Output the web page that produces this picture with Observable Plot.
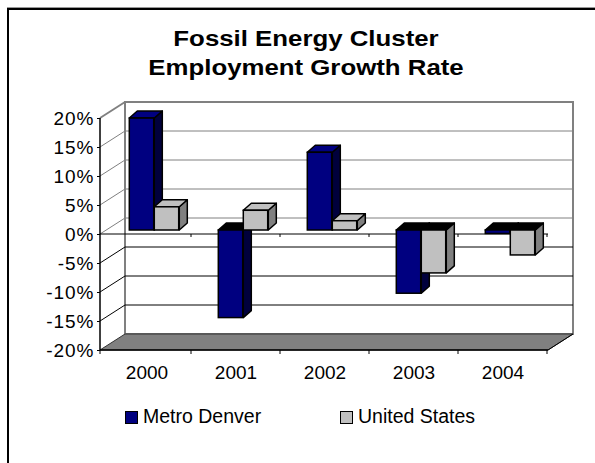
<!DOCTYPE html>
<html><head><meta charset="utf-8">
<script src="https://cdn.jsdelivr.net/npm/d3@7"></script>
<script src="https://cdn.jsdelivr.net/npm/@observablehq/plot@0.6"></script>
<style>
body{margin:0;background:#fff;font-family:"Liberation Sans",Arial,sans-serif;}
#wrap{position:relative;width:595px;height:463px;overflow:hidden;background:#fff;}
#chart{position:absolute;left:0;top:0;}
#chart [aria-label="y-axis tick label"] text{letter-spacing:1px;}
#border{position:absolute;left:7px;top:8px;width:700px;height:600px;border-left:2px solid #000;border-top:2px solid #000;box-shadow:0 -1px 0 #999;}
#title{position:absolute;left:0;width:612px;top:25px;text-align:center;font-weight:bold;font-size:21.5px;line-height:29px;color:#000;}
#title div{transform:scaleX(1.2);transform-origin:center;}
.lg{position:absolute;top:404px;font-size:19.5px;line-height:24px;color:#000;white-space:nowrap;}
.sw{display:inline-block;width:11px;height:11px;border:1.5px solid #000;vertical-align:-1px;margin-right:5px;}
</style></head>
<body>
<div id="wrap">
  <div id="chart"></div>
  <div id="border"></div>
  <div id="title"><div>Fossil Energy Cluster</div><div>Employment Growth Rate</div></div>
  <div id="legend"></div>
</div>
<script>
const years = ["2000", "2001", "2002", "2003", "2004"];
const seriesNames = ["Metro Denver", "United States"];
const metroDenver = [0.193, -0.151, 0.134, -0.109, -0.006];
const unitedStates = [0.040, 0.034, 0.016, -0.074, -0.043];
const yTicks = [-0.2, -0.15, -0.1, -0.05, 0, 0.05, 0.1, 0.15, 0.2];

const FRONT = ["#000080", "#C0C0C0"];
const SIDE = ["#00003C", "#808080"];
const TOP_POS = ["#000080", "#C0C0C0"];
const TOP_NEG = ["#000000", "#000000"];
const WALL = {dx: 25, dy: -16};
const BAR = {dx: 7.5, dy: -4, w: 25, gap: 19.8, cx: 8, cy: -7};

const rowsFor = (vals) => years.map((year, i) => ({year, value: vals[i]}));
const seriesRows = [rowsFor(metroDenver), rowsFor(unitedStates)];

function bw(x) {
  if (typeof x.bandwidth === "function") return x.bandwidth();
  if (typeof x.bandwidth === "number") return x.bandwidth;
  return x(years[1]) - x(years[0]);
}

// back wall, side wall, floor, gridlines
function scaffold(index, {x, y}, values, dim) {
  const g = d3.create("svg:g");
  const L = dim.marginLeft, R = dim.width - dim.marginRight;
  const yT = y(0.2), yB = y(-0.2);
  const line = (x1, y1, x2, y2, stroke, sw) => g.append("line")
    .attr("x1", x1).attr("y1", y1).attr("x2", x2).attr("y2", y2)
    .attr("stroke", stroke).attr("stroke-width", sw);
  g.append("rect").attr("x", L + WALL.dx).attr("y", yT + WALL.dy)
    .attr("width", R - L).attr("height", yB - yT)
    .attr("fill", "#fff").attr("stroke", "#808080").attr("stroke-width", 2);
  for (const v of yTicks) {
    if (Math.abs(v) > 0.19) continue;
    const c = v >= 0 ? "#808080" : "#000";
    line(L + WALL.dx, y(v) + WALL.dy, R + WALL.dx, y(v) + WALL.dy, c, 1);
    line(L, y(v), L + WALL.dx, y(v) + WALL.dy, c, 1);
  }
  line(L, yT, L + WALL.dx, yT + WALL.dy, "#808080", 2);
  g.append("polygon")
    .attr("points", [[L, yB], [R, yB], [R + WALL.dx, yB + WALL.dy], [L + WALL.dx, yB + WALL.dy]].map(p => p.join(",")).join(" "))
    .attr("fill", "#808080").attr("stroke", "#333").attr("stroke-width", 1);
  // front zero line with category ticks
  const y0 = y(0);
  line(L, y0, R, y0, "#000", 1);
  const b = bw(x);
  for (const yr of years) line(x(yr) + b, y0, x(yr) + b, y0 + 3, "#000", 1);
  return g.node();
}

function depthFaces(si) {
  return (index, {x, y}) => {
    const g = d3.create("svg:g");
    for (const d of seriesRows[si]) {
      const x0 = x(d.year) + BAR.gap + si * BAR.w + BAR.dx;
      const x1 = x0 + BAR.w;
      const yTop = y(Math.max(d.value, 0)) + BAR.dy;
      const yBot = y(Math.min(d.value, 0)) + BAR.dy;
      const pts = (arr) => arr.map(p => p.join(",")).join(" ");
      g.append("polygon")
        .attr("points", pts([[x1, yTop], [x1 + BAR.cx, yTop + BAR.cy], [x1 + BAR.cx, yBot + BAR.cy], [x1, yBot]]))
        .attr("fill", SIDE[si]).attr("stroke", "#000").attr("stroke-width", 1.5).attr("stroke-linejoin", "round");
      g.append("polygon")
        .attr("points", pts([[x0, yTop], [x1, yTop], [x1 + BAR.cx, yTop + BAR.cy], [x0 + BAR.cx, yTop + BAR.cy]]))
        .attr("fill", d.value >= 0 ? TOP_POS[si] : TOP_NEG[si]).attr("stroke", "#000").attr("stroke-width", 1.5).attr("stroke-linejoin", "round");
    }
    return g.node();
  };
}

function frontFrame(index, {x, y}, values, dim) {
  const g = d3.create("svg:g");
  const L = dim.marginLeft, R = dim.width - dim.marginRight;
  const yT = y(0.2), yB = y(-0.2);
  const line = (x1, y1, x2, y2, sw) => g.append("line")
    .attr("x1", x1).attr("y1", y1).attr("x2", x2).attr("y2", y2)
    .attr("stroke", "#000").attr("stroke-width", sw);
  line(L, yT, L, yB, 1.5);
  line(L, yB, R, yB, 1.5);
  line(R, yB, R + WALL.dx, yB + WALL.dy, 1);
  line(L, yB, L, yB + 4, 1);
  const b = bw(x);
  for (const yr of years) line(x(yr) + b, yB, x(yr) + b, yB + 4, 1);
  return g.node();
}

const marks = [scaffold];
seriesRows.forEach((rows, si) => {
  marks.push(depthFaces(si));
  marks.push(Plot.barY(rows, {
    x: "year", y: "value",
    insetLeft: BAR.gap + si * BAR.w,
    insetRight: 89.6 - BAR.gap - (si + 1) * BAR.w,
    dx: BAR.dx, dy: BAR.dy,
    fill: FRONT[si], stroke: "#000", strokeWidth: 1.5
  }));
});
marks.push(frontFrame);
marks.push(Plot.axisY({ticks: yTicks, tickFormat: d => Math.round(d * 100) + "%", tickSize: 3, tickPadding: 3, fontSize: 19}));
marks.push(Plot.axisX({tickSize: 0, tickPadding: 15, fontSize: 19}));

const chart = Plot.plot({
  width: 595, height: 463,
  marginLeft: 100, marginRight: 47, marginTop: 118, marginBottom: 113,
  x: {type: "band", domain: years, padding: 0, label: null},
  y: {domain: [-0.2, 0.2], label: null},
  style: {fontFamily: "'Liberation Sans', Arial, sans-serif", color: "#000", background: "transparent"},
  marks
});
document.getElementById("chart").appendChild(chart);

const legend = document.getElementById("legend");
const legendX = [125, 340];
seriesNames.forEach((name, i) => {
  const el = document.createElement("div");
  el.className = "lg";
  el.style.left = legendX[i] + "px";
  el.innerHTML = `<span class="sw" style="background:${FRONT[i]}"></span>${name}`;
  legend.appendChild(el);
});
</script>
</body></html>
